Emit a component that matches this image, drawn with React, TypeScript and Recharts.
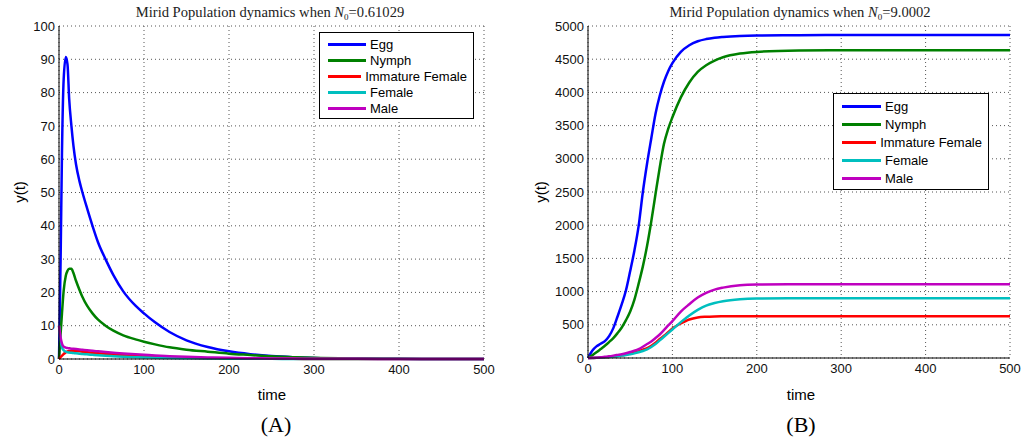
import { LineChart, Line, XAxis, YAxis, CartesianGrid, Legend } from 'recharts'

const seriesNames = ['Egg', 'Nymph', 'Immature Female', 'Female', 'Male']
const seriesKeys = ['egg', 'nymph', 'immature', 'female', 'male']
const seriesColors = ['#0000ff', '#008000', '#ff0000', '#00bfbf', '#bf00bf']

// panel A, N0 = 0.61029
const timeA = [0, 1, 2, 3.5, 5.5, 8, 10, 12, 14.6, 17, 20, 24, 27.6, 33, 39.4, 46, 54.7, 64, 75.6, 90, 100, 113, 130, 150, 175, 200, 225, 250, 275, 300, 350, 400, 450, 500]
const eggA = [0, 15, 32, 62, 84, 90.7, 88.5, 78, 70, 64, 58.5, 53.5, 50, 45.3, 40, 35, 30, 25.2, 20.3, 16, 13.7, 11, 8.1, 5.6, 3.6, 2.3, 1.45, 0.9, 0.55, 0.33, 0.12, 0.04, 0.01, 0]
const nymphA = [0, 4, 8, 13.7, 20.5, 25, 26.5, 27.1, 27.1, 25.8, 23.5, 20.8, 18.6, 16, 13.7, 11.8, 10, 8.5, 7.1, 5.9, 5.2, 4.4, 3.5, 2.8, 2.2, 1.6, 1.2, 0.8, 0.55, 0.35, 0.15, 0.05, 0.01, 0]
const immatureA = [0, 0.3, 0.6, 1.0, 1.5, 2.0, 2.3, 2.4, 2.5, 2.48, 2.42, 2.32, 2.2, 2.05, 1.9, 1.75, 1.55, 1.35, 1.15, 0.9, 0.8, 0.65, 0.5, 0.38, 0.25, 0.17, 0.1, 0.07, 0.04, 0.02, 0, 0, 0, 0]
const femaleA = [10, 7.5, 5.5, 3.5, 2.6, 2.2, 2.05, 1.95, 1.85, 1.78, 1.72, 1.6, 1.5, 1.4, 1.25, 1.1, 0.95, 0.85, 0.7, 0.55, 0.48, 0.4, 0.3, 0.22, 0.15, 0.1, 0.06, 0.04, 0.02, 0.01, 0, 0, 0, 0]
const maleA = [10, 8, 6.3, 4.6, 3.7, 3.4, 3.3, 3.2, 3.1, 3.05, 2.97, 2.85, 2.75, 2.6, 2.45, 2.3, 2.1, 1.9, 1.65, 1.4, 1.25, 1.05, 0.85, 0.65, 0.48, 0.35, 0.25, 0.18, 0.12, 0.08, 0.04, 0.02, 0.01, 0]

// panel B, N0 = 9.0002
const timeB = [0, 5, 10, 15, 20, 25, 30, 35, 40, 45, 50, 55, 60, 65, 70, 75, 80, 85, 90, 95, 100, 110, 120, 130, 140, 150, 160, 180, 200, 250, 300, 400, 500]
const eggB = [0, 110, 175, 215, 255, 330, 450, 625, 810, 1020, 1310, 1620, 1990, 2500, 2930, 3310, 3680, 3950, 4160, 4320, 4440, 4610, 4710, 4770, 4803, 4823, 4835, 4850, 4857, 4862, 4865, 4865, 4865]
const nymphB = [0, 40, 85, 135, 185, 240, 300, 375, 460, 570, 700, 880, 1120, 1380, 1690, 2060, 2470, 2870, 3225, 3450, 3625, 3925, 4150, 4310, 4410, 4480, 4530, 4585, 4610, 4630, 4635, 4635, 4635]
const immatureB = [0, 1, 3, 6, 10, 15, 22, 30, 40, 52, 66, 82, 100, 125, 150, 185, 230, 285, 335, 390, 445, 520, 580, 610, 621, 626, 628, 630, 630, 630, 630, 630, 630]
const femaleB = [0, 1, 3, 6, 10, 15, 21, 28, 36, 46, 57, 70, 86, 105, 130, 165, 210, 265, 320, 375, 429, 540, 640, 725, 790, 828, 855, 884, 895, 900, 900, 900, 900]
const maleB = [0, 2, 5, 10, 18, 26, 36, 47, 58, 72, 90, 110, 135, 170, 210, 250, 300, 354, 420, 490, 555, 700, 810, 910, 980, 1030, 1060, 1096, 1107, 1112, 1112, 1112, 1112]

const xTicks = [0, 100, 200, 300, 400, 500]
const yTicksA = [0, 10, 20, 30, 40, 50, 60, 70, 80, 90, 100]
const yTicksB = [0, 500, 1000, 1500, 2000, 2500, 3000, 3500, 4000, 4500, 5000]

const buildRows = (time: number[], cols: number[][]) =>
  time.map((t, i) => {
    const row: any = { t }
    seriesKeys.forEach((k, j) => { row[k] = cols[j][i] })
    return row
  })

const rowsA = buildRows(timeA, [eggA, nymphA, immatureA, femaleA, maleA])
const rowsB = buildRows(timeB, [eggB, nymphB, immatureB, femaleB, maleB])

// recharts sorts legend items by name, put them back in plotting order
const LegendBox = ({ payload, rowHeight, lineWidth }: any) => {
  const items = [...(payload || [])].sort((a: any, b: any) => seriesNames.indexOf(a.value) - seriesNames.indexOf(b.value))
  return (
    <div style={{ boxSizing: 'border-box', background: '#fff', border: '1px solid #000', padding: '3px 6px 2px 8px', fontSize: 13, color: '#000' }}>
      {items.map((item: any) => (
        <div key={item.value} style={{ display: 'flex', alignItems: 'center', height: rowHeight, whiteSpace: 'nowrap' }}>
          <span style={{ display: 'inline-block', width: lineWidth, height: 3, background: item.color, marginRight: 4 }} />
          <span>{item.value}</span>
        </div>
      ))}
    </div>
  )
}

interface PanelProps {
  rows: any[]
  yDomain: [number, number]
  yTicks: number[]
  yWidth: number
  right: number
  bottom: number
  legendPos: { left: number, top: number, width: number }
  rowHeight: number
  lineWidth: number
}

const Panel = ({ rows, yDomain, yTicks, yWidth, right, bottom, legendPos, rowHeight, lineWidth }: PanelProps) => (
  <LineChart width={511} height={439} data={rows} margin={{ top: 26, right, bottom, left: 0 }}>
    <CartesianGrid stroke="#555" strokeDasharray="1 3" />
    <XAxis dataKey="t" type="number" domain={[0, 500]} ticks={xTicks} height={30} tickSize={4} tickMargin={2}
      tickLine={false} axisLine={{ stroke: '#000' }} tick={{ fill: '#111', fontSize: 13 }} />
    <XAxis xAxisId="top" dataKey="t" type="number" domain={[0, 500]} ticks={xTicks} orientation="top" mirror height={0}
      tick={false} tickSize={5} tickLine={{ stroke: '#000' }} axisLine={{ stroke: '#000' }} />
    <XAxis xAxisId="bottomTicks" dataKey="t" type="number" domain={[0, 500]} ticks={xTicks} mirror height={0}
      tick={false} tickSize={5} tickLine={{ stroke: '#000' }} axisLine={false} />
    <YAxis type="number" domain={yDomain} ticks={yTicks} width={yWidth} tickSize={3} tickMargin={1}
      tickLine={false} axisLine={{ stroke: '#000' }} tick={{ fill: '#111', fontSize: 13 }} interval={0} />
    <YAxis yAxisId="right" type="number" domain={yDomain} ticks={yTicks} orientation="right" mirror width={0}
      tick={false} tickSize={5} tickLine={{ stroke: '#000' }} axisLine={{ stroke: '#000' }} />
    <YAxis yAxisId="leftTicks" type="number" domain={yDomain} ticks={yTicks} mirror width={0}
      tick={false} tickSize={5} tickLine={{ stroke: '#000' }} axisLine={false} />
    <Legend layout="vertical" align="center" verticalAlign="middle"
      wrapperStyle={{ left: legendPos.left, top: legendPos.top, width: legendPos.width, bottom: 'auto', right: 'auto' }}
      content={<LegendBox rowHeight={rowHeight} lineWidth={lineWidth} />} />
    {seriesKeys.map((k, i) => (
      <Line key={k} type="monotone" dataKey={k} name={seriesNames[i]} stroke={seriesColors[i]} strokeWidth={2.5}
        dot={false} activeDot={false} isAnimationActive={false} />
    ))}
  </LineChart>
)

const centered = (left: number, top: number, extra: any = {}): any => ({
  position: 'absolute', left, top, transform: 'translate(-50%, -50%)', whiteSpace: 'nowrap', lineHeight: 1, ...extra,
})

const serif = '"Liberation Serif", "Times New Roman", serif'

const Title = ({ n0 }: { n0: string }) => (
  <span>
    Mirid Population dynamics when <i>N</i><sub style={{ fontSize: 9, verticalAlign: -3 }}>0</sub>={n0}
  </span>
)

export default function App() {
  return (
    <div style={{ position: 'absolute', left: 0, top: 0, width: 1022, height: 439, background: '#fff', fontFamily: '"Liberation Sans", Arial, sans-serif', color: '#000' }}>
      <div style={{ position: 'absolute', left: 0, top: 0 }}>
        <Panel rows={rowsA} yDomain={[0, 100]} yTicks={yTicksA} yWidth={59} right={27} bottom={50}
          legendPos={{ left: 319, top: 32, width: 155 }} rowHeight={16} lineWidth={38} />
      </div>
      <div style={{ position: 'absolute', left: 511, top: 0 }}>
        <Panel rows={rowsB} yDomain={[0, 5000]} yTicks={yTicksB} yWidth={77} right={12} bottom={51}
          legendPos={{ left: 322, top: 93, width: 156 }} rowHeight={18} lineWidth={39} />
      </div>

      <div style={centered(270, 13, { fontFamily: serif, fontSize: 14.6, color: '#222' })}><Title n0="0.61029" /></div>
      <div style={centered(800, 13, { fontFamily: serif, fontSize: 14.6, color: '#222' })}><Title n0="9.0002" /></div>

      <div style={centered(19, 192, { fontSize: 15, transform: 'translate(-50%, -50%) rotate(-90deg)' })}>y(t)</div>
      <div style={centered(540, 192, { fontSize: 15, transform: 'translate(-50%, -50%) rotate(-90deg)' })}>y(t)</div>

      <div style={centered(272, 394, { fontSize: 15 })}>time</div>
      <div style={centered(801, 394, { fontSize: 15 })}>time</div>

      <div style={centered(276, 425, { fontFamily: serif, fontSize: 22 })}>(A)</div>
      <div style={centered(801, 425, { fontFamily: serif, fontSize: 22 })}>(B)</div>
    </div>
  )
}
